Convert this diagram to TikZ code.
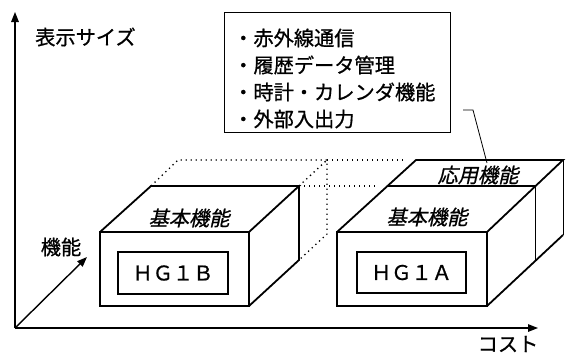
\documentclass[tikz,border=0pt]{standalone}
\usepackage{fontspec}
\usetikzlibrary{arrows.meta}
\newfontfamily\jp[FakeBold=0.8]{Noto Sans CJK JP}
\newfontfamily\jpit[FakeSlant=0.22,FakeBold=0.8]{Noto Sans CJK JP}
\begin{document}
\begin{tikzpicture}[x=1bp,y=-1bp,
  font=\jp\fontsize{20.3}{22}\selectfont,
  txt/.style={inner sep=0pt},
  itxt/.style={inner sep=0pt,font=\jpit\fontsize{20.3}{22}\selectfont},
  edge/.style={line width=1.8bp,line join=miter},
  thinedge/.style={line width=1bp},
  dots/.style={line width=1.3bp,dash pattern=on 1.3bp off 3.7bp},
  axis/.style={line width=1.4bp,-{Triangle[length=10bp,width=7.5bp]}},
  inner/.style={draw,line width=1.8bp,inner sep=0pt,minimum width=110bp,minimum height=42bp},
  call/.style={line width=0.8bp}]
\useasboundingbox (0,0) rectangle (570,355);

% axes
\coordinate (O) at (15,328);
\coordinate (Ytop) at (15,12);
\coordinate (Xend) at (538,328);
\coordinate (Dend) at (87,257);
\draw[axis] (O) -- (Ytop);
\draw[axis] (O) -- (Xend);
\draw[axis] (O) -- (Dend);
\node[txt,anchor=west] (ylab) at (35,37) {表示サイズ};
\node[txt] (dlab) at (61,247) {機能};
\node[txt] (xlab) at (508,344) {コスト};

% HG1B box corners
\coordinate (b1) at (100,232); \coordinate (b2) at (249,232);
\coordinate (b3) at (249,306); \coordinate (b4) at (100,306);
\coordinate (b5) at (151,186); \coordinate (b6) at (299,186);
\coordinate (b7) at (299,260);
\coordinate (b8) at (178,160); \coordinate (b9) at (327,160);
\coordinate (b10) at (327,234);

% HG1A box corners
\coordinate (a1) at (337,232); \coordinate (a2) at (487,232);
\coordinate (a3) at (487,306); \coordinate (a4) at (337,306);
\coordinate (a5) at (388,186); \coordinate (a6) at (535,186);
\coordinate (a7) at (535,260);
\coordinate (a8) at (416,160); \coordinate (a9) at (563,160);
\coordinate (a10) at (563,235);

% dotted extension
\coordinate (d1) at (407,160);
\coordinate (d2) at (379,186);
\draw[dots] (b5) -- (b8) -- (b9) -- (b10) -- (b7);
\draw[dots] (b6) -- (b9);
\draw[dots] (b9) -- (d1);
\draw[dots] (b6) -- (d2);

% HG1B box
\draw[edge] (b1) -- (b2) -- (b3) -- (b4) -- cycle;
\draw[edge] (b1) -- (b5) -- (b6) -- (b2);
\draw[edge] (b6) -- (b7) -- (b3);
\node[inner] (hgb) at (173,273) {ＨＧ１Ｂ};
\node[itxt] (kb1) at (189,218) {基本機能};

% HG1A box
\draw[edge] (a1) -- (a2) -- (a3) -- (a4) -- cycle;
\draw[edge] (a1) -- (a8) -- (a9) -- (a2);
\draw[edge] (a5) -- (a6);
\draw[thinedge] (a9) -- (a10);
\draw[edge] (a10) -- (a3);
\draw[thinedge] (a6) -- (a7);
\node[inner,minimum width=109bp,minimum height=41bp] (hga) at (411.5,272.5) {ＨＧ１Ａ};
\node[itxt] (kb2) at (427,217) {基本機能};
\node[itxt] (oy) at (478,175) {応用機能};

% text box
\node[draw,line width=0.9bp,inner sep=0pt,minimum width=226bp,minimum height=120bp,anchor=north west] (tb) at (224,12) {};
\node[txt,anchor=west] (t1) at (233,38) {・赤外線通信};
\node[txt,anchor=west] (t2) at (233,65) {・履歴データ管理};
\node[txt,anchor=west] (t3) at (233,92) {・時計・カレンダ機能};
\node[txt,anchor=west] (t4) at (233,119) {・外部入出力};

% callout
\coordinate (c1) at (463,110);
\coordinate (c2) at (473,110);
\coordinate (c3) at (487,163);
\draw[call] (c1) -- (c2) -- (c3);
\end{tikzpicture}
\end{document}
